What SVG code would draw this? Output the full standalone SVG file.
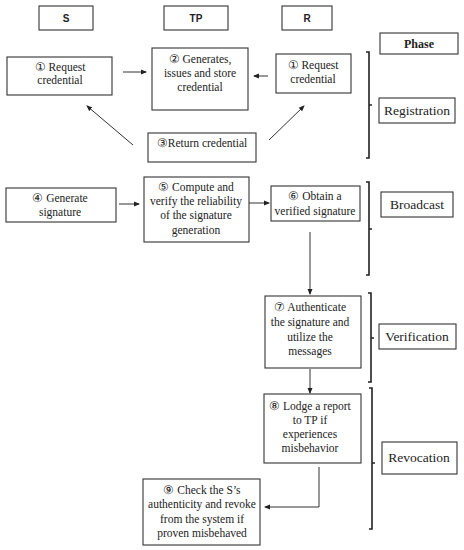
<svg xmlns="http://www.w3.org/2000/svg" width="464" height="550" viewBox="0 0 464 550">
<defs>
<marker id="ah" markerWidth="6" markerHeight="6" refX="5" refY="3" orient="auto" markerUnits="userSpaceOnUse">
<path d="M0,0.5 L6,3 L0,5.5 z" fill="#222"/>
</marker>
<style>
.box{fill:#fff;stroke:#333;stroke-width:1.1}
.t{font-family:"Liberation Serif","DejaVu Serif",serif;font-size:11.5px;fill:#222;text-anchor:middle}
.ph{font-family:"Liberation Serif","DejaVu Serif",serif;font-size:13.5px;fill:#222;text-anchor:middle}
.hd{font-family:"Liberation Sans",Arial,sans-serif;font-size:10px;font-weight:bold;fill:#222;text-anchor:middle}
.phb{font-family:"Liberation Serif",serif;font-size:12px;font-weight:bold;fill:#222;text-anchor:middle}
.ln{fill:none;stroke:#333;stroke-width:1}
.br{fill:none;stroke:#222;stroke-width:1.6}
</style>
</defs>
<rect width="464" height="550" fill="#fff"/>

<g id="hdr-S"><rect class="box" x="39" y="6" width="54" height="24"/><text class="hd" x="66" y="22">S</text></g>
<g id="hdr-TP"><rect class="box" x="164" y="6" width="64" height="24"/><text class="hd" x="196" y="22">TP</text></g>
<g id="hdr-R"><rect class="box" x="282" y="6" width="50" height="24"/><text class="hd" x="307" y="22">R</text></g>
<g id="hdr-phase"><rect class="box" x="380" y="33" width="78" height="21"/><text class="phb" x="419" y="48">Phase</text></g>

<g id="n1s"><rect class="box" x="7" y="57" width="105" height="38"/>
<text class="t" x="60" y="71">① Request</text><text class="t" x="60" y="84">credential</text></g>
<g id="n2"><rect class="box" x="152" y="48" width="96" height="62"/>
<text class="t" x="200" y="63">② Generates,</text><text class="t" x="200" y="77">issues and store</text><text class="t" x="200" y="91">credential</text></g>
<g id="n1r"><rect class="box" x="276" y="54" width="75" height="39"/>
<text class="t" x="313" y="69">① Request</text><text class="t" x="313" y="83">credential</text></g>
<g id="n3"><rect class="box" x="148" y="133" width="108" height="29"/>
<text class="t" x="202" y="147">③Return credential</text></g>

<g id="n4"><rect class="box" x="6" y="188" width="110" height="34"/>
<text class="t" x="60" y="202">④ Generate</text><text class="t" x="60" y="216">signature</text></g>
<g id="n5"><rect class="box" x="144" y="177" width="105" height="65"/>
<text class="t" x="196" y="191">⑤ Compute and</text><text class="t" x="196" y="205">verify the reliability</text><text class="t" x="196" y="219">of the signature</text><text class="t" x="196" y="234">generation</text></g>
<g id="n6"><rect class="box" x="271" y="186" width="89" height="35"/>
<text class="t" x="315" y="200">⑥ Obtain a</text><text class="t" x="315" y="215">verified signature</text></g>

<g id="n7"><rect class="box" x="265" y="296" width="96" height="72"/>
<text class="t" x="310" y="311">⑦ Authenticate</text><text class="t" x="310" y="326">the signature and</text><text class="t" x="310" y="341">utilize the</text><text class="t" x="310" y="355">messages</text></g>
<g id="n8"><rect class="box" x="264" y="394" width="97" height="69"/>
<text class="t" x="310" y="410">⑧ Lodge a report</text><text class="t" x="310" y="424">to TP if</text><text class="t" x="310" y="438">experiences</text><text class="t" x="310" y="452">misbehavior</text></g>
<g id="n9"><rect class="box" x="143" y="479" width="117" height="66"/>
<text class="t" x="202" y="494">⑨ Check the S’s</text><text class="t" x="202" y="508">authenticity and revoke</text><text class="t" x="202" y="523">from the system if</text><text class="t" x="202" y="537">proven misbehaved</text></g>

<g id="ph-reg"><rect class="box" x="379" y="98" width="76" height="25"/><text class="ph" x="417" y="115">Registration</text></g>
<g id="ph-bc"><rect class="box" x="381" y="192" width="72" height="25"/><text class="ph" x="417" y="209">Broadcast</text></g>
<g id="ph-ver"><rect class="box" x="379" y="324" width="77" height="25"/><text class="ph" x="417" y="341">Verification</text></g>
<g id="ph-rev"><rect class="box" x="382" y="442" width="75" height="32"/><text class="ph" x="419" y="462">Revocation</text></g>

<g id="brackets">
<path class="br" d="M366,52 H369 V158 H366 M369,105 H372"/>
<path class="br" d="M366,182 H369 V275 H366 M369,229 H372"/>
<path class="br" d="M368,293 H371 V382 H368 M371,338 H374"/>
<path class="br" d="M369,388 H372 V529 H369 M372,463 H375"/>
</g>

<g id="connectors">
<line class="ln" x1="123" y1="72" x2="146" y2="72" marker-end="url(#ah)"/>
<line class="ln" x1="268" y1="76" x2="254" y2="76" marker-end="url(#ah)"/>
<line class="ln" x1="133" y1="145" x2="87" y2="106" marker-end="url(#ah)"/>
<line class="ln" x1="269" y1="140" x2="304" y2="106" marker-end="url(#ah)"/>
<line class="ln" x1="119" y1="204" x2="139" y2="204" marker-end="url(#ah)"/>
<line class="ln" x1="249" y1="203" x2="269" y2="203" marker-end="url(#ah)"/>
<line class="ln" x1="310" y1="232" x2="310" y2="294" marker-end="url(#ah)"/>
<line class="ln" x1="310" y1="369" x2="310" y2="393" marker-end="url(#ah)"/>
<polyline class="ln" points="319,467 319,507 265,507" marker-end="url(#ah)"/>
</g>
</svg>
